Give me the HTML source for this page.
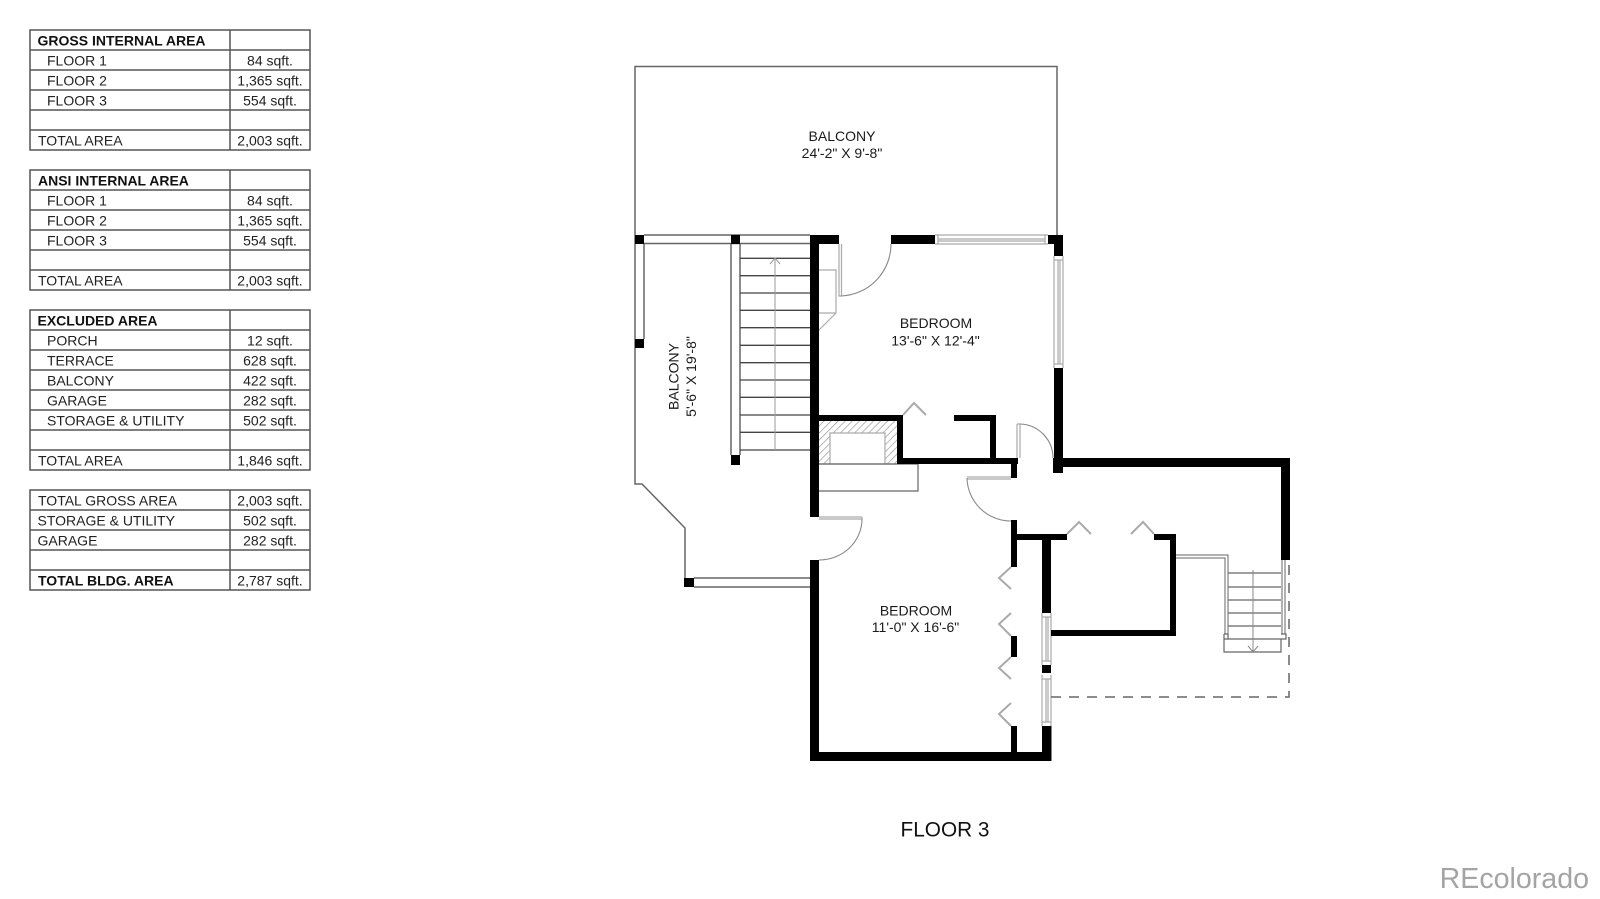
<!DOCTYPE html>
<html><head><meta charset="utf-8"><style>
html,body{margin:0;padding:0;background:#fff;width:1600px;height:899px;overflow:hidden}
svg{display:block;filter:blur(0.35px)}
text{font-family:"Liberation Sans",Arial,sans-serif;fill:#222}
.t{font-size:14px}.b{font-weight:bold;fill:#111}.v{text-anchor:middle}
.r{font-size:14px;text-anchor:middle;fill:#1a1a1a}
.g{fill:none;stroke:#666;stroke-width:1.5}
.l{fill:none;stroke:#aaa;stroke-width:1.2}
.c{fill:none;stroke:#aaa;stroke-width:2}
.w{fill:#000}
</style></head><body>
<svg width="1600" height="899" viewBox="0 0 1600 899" xmlns="http://www.w3.org/2000/svg">
<defs><pattern id="h" width="5" height="5" patternUnits="userSpaceOnUse" patternTransform="rotate(45)"><rect width="5" height="5" fill="#fff"/><line x1="0" y1="0" x2="0" y2="5" stroke="#999" stroke-width="1.4"/></pattern></defs>

<!-- tables -->
<g fill="none" stroke="#555" stroke-width="1.5">
<path d="M30 30H310V150H30ZM230 30V150M30 50H310M30 70H310M30 90H310M30 110H310M30 130H310"/>
<path d="M30 170H310V290H30ZM230 170V290M30 190H310M30 210H310M30 230H310M30 250H310M30 270H310"/>
<path d="M30 310H310V470H30ZM230 310V470M30 330H310M30 350H310M30 370H310M30 390H310M30 410H310M30 430H310M30 450H310"/>
<path d="M30 490H310V590H30ZM230 490V590M30 510H310M30 530H310M30 550H310M30 570H310"/>
</g>
<g class="t" transform="translate(0 -0.7)">
<text x="37.5" y="46" class="b">GROSS INTERNAL AREA</text>
<text x="47" y="66">FLOOR 1</text><text x="270" y="66" class="v">84 sqft.</text>
<text x="47" y="86">FLOOR 2</text><text x="270" y="86" class="v">1,365 sqft.</text>
<text x="47" y="106">FLOOR 3</text><text x="270" y="106" class="v">554 sqft.</text>
<text x="38" y="146">TOTAL AREA</text><text x="270" y="146" class="v">2,003 sqft.</text>

<text x="38" y="186" class="b">ANSI INTERNAL AREA</text>
<text x="47" y="206">FLOOR 1</text><text x="270" y="206" class="v">84 sqft.</text>
<text x="47" y="226">FLOOR 2</text><text x="270" y="226" class="v">1,365 sqft.</text>
<text x="47" y="246">FLOOR 3</text><text x="270" y="246" class="v">554 sqft.</text>
<text x="38" y="286">TOTAL AREA</text><text x="270" y="286" class="v">2,003 sqft.</text>

<text x="37.5" y="326" class="b">EXCLUDED AREA</text>
<text x="47" y="346">PORCH</text><text x="270" y="346" class="v">12 sqft.</text>
<text x="47" y="366">TERRACE</text><text x="270" y="366" class="v">628 sqft.</text>
<text x="47" y="386">BALCONY</text><text x="270" y="386" class="v">422 sqft.</text>
<text x="47" y="406">GARAGE</text><text x="270" y="406" class="v">282 sqft.</text>
<text x="47" y="426">STORAGE &amp; UTILITY</text><text x="270" y="426" class="v">502 sqft.</text>
<text x="38" y="466">TOTAL AREA</text><text x="270" y="466" class="v">1,846 sqft.</text>

<text x="38" y="506">TOTAL GROSS AREA</text><text x="270" y="506" class="v">2,003 sqft.</text>
<text x="37.5" y="526">STORAGE &amp; UTILITY</text><text x="270" y="526" class="v">502 sqft.</text>
<text x="37.5" y="546">GARAGE</text><text x="270" y="546" class="v">282 sqft.</text>
<text x="38" y="586" class="b">TOTAL BLDG. AREA</text><text x="270" y="586" class="v">2,787 sqft.</text>
</g>

<!-- balcony outlines -->
<path class="g" d="M635 235V66.500H1057V235"/>
<path class="g" d="M635 235V484H642L685 528V587"/>
<path class="g" d="M644 235H810M644 243.500H810M644 244V339M731 244V455M740 244V455"/>
<path class="g" d="M694 578H810M694 587H810"/>

<!-- stairs -->
<path fill="none" stroke="#444" stroke-width="1.300" d="M740 258.300H810M740 275.700H810M740 293H810M740 310.300H810M740 327.700H810M740 345.300H810M740 362.700H810M740 380H810M740 397.300H810M740 415H810M740 432.300H810M740 450H810"/>
<path fill="none" stroke="#999" stroke-width="1" d="M775 450V258M770 264L775 258L780 264"/>

<!-- fireplace -->
<path fill="url(#h)" d="M819 421H897V464H885V433H830V464H819Z"/>
<path class="l" d="M830 464V433H885V464M819 464H897"/>
<path class="g" style="stroke-width:1.2" d="M819 464H918V491H819"/>

<!-- closet detail & door jambs, arcs -->
<path class="l" d="M819 270H836V313H819M836 313L819 330"/>
<path class="l" d="M839 244V296H841.500V244"/>
<path fill="none" stroke="#888" stroke-width="1.1" d="M841 296A52 52 0 0 0 891 244"/>
<path class="l" d="M1017 424V458M1020 458V424H1017"/>
<path fill="none" stroke="#888" stroke-width="1.1" d="M1020 424A34 34 0 0 1 1053 458"/>
<path class="l" d="M967 477H1011M967 479H1011"/>
<path fill="none" stroke="#888" stroke-width="1.1" d="M967 478A44 44 0 0 0 1011 521"/>
<path class="l" d="M819 517H862M819 519H862M862 517V519"/>
<path fill="none" stroke="#888" stroke-width="1.1" d="M862 519A43 41 0 0 1 819 560"/>

<!-- windows -->
<path class="l" d="M935 235H1048M935 244H1048M938 239H1045M938 241H1045M938 235V244M1045 235V244"/>
<path class="l" d="M1054 256V368M1063 256V368M1058 260V364M1060 260V364M1054 260H1063M1054 364H1063"/>
<path class="l" d="M1042 613V665M1051 613V665M1046 617V661M1048 617V661M1042 617H1051M1042 661H1051"/>
<path class="l" d="M1042 675V726M1051 675V726M1046 679V722M1048 679V722M1042 679H1051M1042 722H1051"/>

<!-- black walls -->
<g class="w">
<rect x="635" y="235" width="9" height="9"/>
<rect x="635" y="339" width="9" height="9"/>
<rect x="731" y="235" width="9" height="9"/>
<rect x="731" y="455" width="9" height="10"/>
<rect x="684" y="578" width="10" height="9"/>
<rect x="810" y="235" width="29" height="9"/>
<rect x="810" y="235" width="9" height="282"/>
<rect x="810" y="560" width="9" height="201"/>
<rect x="810" y="752" width="241.500" height="9"/>
<rect x="891" y="235" width="44" height="9"/>
<rect x="1048" y="235" width="15" height="9"/>
<rect x="1054" y="235" width="9" height="21"/>
<rect x="1054" y="368" width="9" height="105"/>
<rect x="1053" y="458" width="10" height="15"/>
<rect x="1063" y="458" width="227" height="9"/>
<rect x="1281" y="458" width="9" height="102"/>
<rect x="819" y="415" width="84" height="6"/>
<rect x="897" y="415" width="6" height="49"/>
<rect x="897" y="458" width="121" height="6"/>
<rect x="954" y="415" width="42" height="6"/>
<rect x="990" y="415" width="6" height="49"/>
<rect x="1011" y="458" width="6" height="20"/>
<rect x="1011" y="520" width="6" height="47"/>
<rect x="1011" y="636" width="6" height="21"/>
<rect x="1011" y="726" width="6" height="30"/>
<rect x="1011" y="534" width="56" height="6"/>
<rect x="1042" y="534" width="9" height="79"/>
<rect x="1042" y="665" width="9" height="8"/>
<rect x="1042" y="726" width="9.500" height="35"/>
<rect x="1051" y="630" width="125" height="6"/>
<rect x="1170" y="534" width="6" height="102"/>
<rect x="1154" y="534" width="22" height="6"/>
</g>

<!-- chevrons -->
<path class="c" d="M903 415L914 403L926 415M1067 534L1079 522L1091 534M1131 534L1143 522L1154 534"/>
<path class="c" d="M1011 567L999 578L1011 589M1011 613L999 624L1011 636M1011 657L999 668L1011 679M1011 703L999 714L1011 726"/>

<!-- right stairs -->
<path class="g" style="stroke-width:1" d="M1176 555H1228V634M1176 558H1225V634M1282 560V634M1285 560V634"/>
<path class="g" style="stroke-width:1.200" d="M1228 573H1281M1228 587H1281M1228 600H1281M1228 613H1281M1228 626H1281M1224 639H1281"/>
<path class="g" style="stroke-width:1.200" d="M1224 634H1228V639M1224 634V652H1281V639M1281 634H1286V639H1281"/>
<path fill="none" stroke="#888" stroke-width="1" d="M1253 570V652M1248 646L1253 652L1258 646"/>
<path fill="none" stroke="#666" stroke-width="1.500" stroke-dasharray="10 8" d="M1051 697H1289V560"/>

<!-- labels -->
<text class="r" x="842" y="141">BALCONY</text>
<text class="r" x="842" y="158">24'-2" X 9'-8"</text>
<text class="r" x="936" y="328">BEDROOM</text>
<text class="r" x="935.500" y="345.500">13'-6" X 12'-4"</text>
<text class="r" x="916" y="615.500">BEDROOM</text>
<text class="r" x="915.500" y="632">11'-0" X 16'-6"</text>
<text class="r" transform="translate(678.500 376.500) rotate(-90)">BALCONY</text>
<text class="r" transform="translate(696 376.500) rotate(-90)">5'-6" X 19'-8"</text>
<text x="945" y="836.500" text-anchor="middle" font-size="20.800" style="fill:#111">FLOOR 3</text>
<text x="1589" y="888" text-anchor="end" font-size="28.600" style="fill:#a4a4a4">REcolorado</text>
</svg>
</body></html>
